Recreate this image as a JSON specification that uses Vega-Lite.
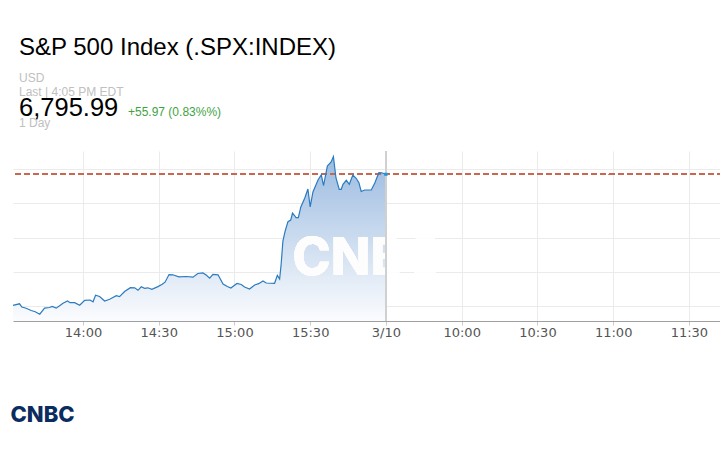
{
  "$schema": "https://vega.github.io/schema/vega-lite/v6.json",
  "background": "white",
  "padding": {"left": 10, "top": 35, "right": 0, "bottom": 0},
  "spacing": -23,
  "config": {
    "view": {"stroke": null},
    "font": "Liberation Sans"
  },
  "datasets": {
    "spx": [
      {"t": 2.3, "v": 6757.68}, {"t": 4.9, "v": 6758.12}, {"t": 5.8, "v": 6757.19}, {"t": 7.5, "v": 6756.81},
      {"t": 9.5, "v": 6756.16}, {"t": 11.1, "v": 6755.81}, {"t": 12.9, "v": 6755.08}, {"t": 14.8, "v": 6756.84},
      {"t": 16.8, "v": 6757.04}, {"t": 17.8, "v": 6757.33}, {"t": 19.4, "v": 6756.84}, {"t": 20.9, "v": 6757.62},
      {"t": 22.1, "v": 6758.27}, {"t": 23.9, "v": 6758.94}, {"t": 24.9, "v": 6758.44}, {"t": 26.7, "v": 6758.44},
      {"t": 28.7, "v": 6757.71}, {"t": 30.7, "v": 6759.15}, {"t": 32.8, "v": 6759.23}, {"t": 34.0, "v": 6758.71},
      {"t": 35.0, "v": 6760.64}, {"t": 36.6, "v": 6760.26}, {"t": 38.6, "v": 6758.94}, {"t": 40.6, "v": 6759.44},
      {"t": 43.2, "v": 6760.49}, {"t": 44.5, "v": 6760.20}, {"t": 46.5, "v": 6761.72}, {"t": 48.8, "v": 6762.83},
      {"t": 50.5, "v": 6762.80}, {"t": 51.8, "v": 6762.07}, {"t": 53.1, "v": 6763.09}, {"t": 54.4, "v": 6762.65},
      {"t": 55.7, "v": 6762.80}, {"t": 57.3, "v": 6762.36}, {"t": 59.7, "v": 6763.15}, {"t": 61.4, "v": 6763.82},
      {"t": 62.5, "v": 6764.44}, {"t": 64.1, "v": 6766.66}, {"t": 65.6, "v": 6766.60}, {"t": 68.0, "v": 6766.02},
      {"t": 70.9, "v": 6766.10}, {"t": 73.6, "v": 6765.90}, {"t": 75.5, "v": 6766.98}, {"t": 77.5, "v": 6767.13},
      {"t": 78.8, "v": 6766.54}, {"t": 80.2, "v": 6765.61}, {"t": 81.5, "v": 6766.75}, {"t": 83.5, "v": 6766.60},
      {"t": 85.5, "v": 6763.91}, {"t": 87.2, "v": 6763.18}, {"t": 88.6, "v": 6762.74}, {"t": 91.0, "v": 6764.06},
      {"t": 92.7, "v": 6763.76}, {"t": 94.0, "v": 6763.03}, {"t": 96.0, "v": 6762.45}, {"t": 98.0, "v": 6763.62},
      {"t": 99.6, "v": 6764.00}, {"t": 101.3, "v": 6764.79}, {"t": 102.6, "v": 6764.20}, {"t": 105.9, "v": 6764.12},
      {"t": 107.0, "v": 6766.45}, {"t": 107.9, "v": 6765.37}, {"t": 108.5, "v": 6769.67}, {"t": 109.2, "v": 6776.48},
      {"t": 110.1, "v": 6779.41}, {"t": 111.2, "v": 6782.13}, {"t": 112.3, "v": 6782.62}, {"t": 113.0, "v": 6784.67},
      {"t": 113.8, "v": 6783.94}, {"t": 114.4, "v": 6783.30}, {"t": 115.3, "v": 6783.30}, {"t": 116.3, "v": 6786.43},
      {"t": 117.9, "v": 6789.15}, {"t": 119.1, "v": 6791.69}, {"t": 120.0, "v": 6786.43}, {"t": 121.1, "v": 6790.81},
      {"t": 123.1, "v": 6794.32}, {"t": 124.4, "v": 6795.84}, {"t": 125.3, "v": 6792.71}, {"t": 126.8, "v": 6798.41},
      {"t": 128.3, "v": 6799.58}, {"t": 129.2, "v": 6801.19}, {"t": 130.2, "v": 6794.99}, {"t": 131.5, "v": 6791.60},
      {"t": 132.3, "v": 6791.60}, {"t": 133.0, "v": 6793.06}, {"t": 134.3, "v": 6794.23}, {"t": 135.5, "v": 6793.06},
      {"t": 136.9, "v": 6795.78}, {"t": 138.2, "v": 6794.82}, {"t": 139.3, "v": 6793.53}, {"t": 140.2, "v": 6790.96},
      {"t": 141.6, "v": 6791.40}, {"t": 144.2, "v": 6791.40}, {"t": 145.6, "v": 6793.44}, {"t": 147.2, "v": 6796.45},
      {"t": 148.3, "v": 6796.43}, {"t": 150.0, "v": 6795.99}
    ]
  },
  "vconcat": [
    {
      "width": 700,
      "height": 0,
      "data": {"values": []},
      "mark": "point",
      "title": {
        "text": "S&P 500 Index (.SPX:INDEX)",
        "subtitle": ["USD", "Last | 4:05 PM EDT"],
        "anchor": "start",
        "frame": "group",
        "fontSize": 24,
        "fontWeight": "normal",
        "color": "#000000",
        "subtitleColor": "#c0c0c0",
        "subtitleFontSize": 12,
        "subtitleLineHeight": 14,
        "subtitlePadding": 13.5,
        "offset": 0,
        "dx": 6
      }
    },
    {
      "spacing": 0,
      "hconcat": [
        {
          "width": 115,
          "height": 21.5,
          "data": {"values": []},
          "mark": "point",
          "title": {
            "text": "6,795.99",
            "subtitle": "1 Day",
            "anchor": "start",
            "frame": "group",
            "fontSize": 25.5,
            "fontWeight": "normal",
            "color": "#000000",
            "subtitleColor": "#c0c0c0",
            "subtitleFontSize": 12,
            "subtitlePadding": -3,
            "offset": 0,
            "dx": 6
          }
        },
        {
          "width": 200,
          "height": 21.5,
          "data": {"values": []},
          "mark": "point",
          "title": {
            "text": "+55.97 (0.83%%)",
            "anchor": "start",
            "frame": "group",
            "fontSize": 12,
            "fontWeight": "normal",
            "color": "#3fa33f",
            "offset": 0,
            "dy": -10
          }
        }
      ]
    },
    {
      "width": 710,
      "height": 170,
      "data": {"name": "spx"},
      "encoding": {
        "x": {
          "field": "t",
          "type": "quantitative",
          "scale": {"domain": [2.3, 283.5], "nice": false, "zero": false},
          "axis": {
            "values": [30, 60, 90, 120, 150, 180, 210, 240, 270],
            "labelExpr": "['14:00','14:30','15:00','15:30','3/10','10:00','10:30','11:00','11:30'][round(datum.value/30)-1]",
            "grid": true,
            "gridColor": "#ebebeb",
            "domainColor": "#a0a0a0",
            "tickColor": "#cccccc",
            "tickSize": 4,
            "labelFont": "DejaVu Sans",
            "labelFontSize": 13,
            "labelColor": "#555555",
            "labelPadding": 1.5,
            "title": "CNBC",
            "titleFont": "Inter",
            "titleFontWeight": 800,
            "titleFontSize": 22,
            "titleColor": "#0b2c5f",
            "titleAnchor": "start",
            "titleAlign": "left",
            "titleBaseline": "alphabetic",
            "titleX": -3,
            "titleY": 100
          }
        },
        "y": {
          "field": "v",
          "type": "quantitative",
          "scale": {"domain": [6753.09, 6802.8], "nice": false, "zero": false},
          "axis": {
            "values": [6757.45, 6767.45, 6777.45, 6787.45, 6797.45],
            "grid": true,
            "gridColor": "#ebebeb",
            "labels": false,
            "ticks": false,
            "domain": false,
            "title": null
          }
        }
      },
      "layer": [
        {
          "mark": {
            "type": "area",
            "color": {
              "gradient": "linear",
              "x1": 0, "y1": 1, "x2": 0, "y2": 0,
              "stops": [
                {"offset": 0, "color": "#fbfcfe"},
                {"offset": 1, "color": "#9bbbe0"}
              ]
            }
          },
          "encoding": {"y2": {"datum": 6753.09}}
        },
        {
          "mark": {"type": "text", "text": "CNBC", "font": "Inter", "fontWeight": 800, "fontSize": 52, "fill": "#ffffff", "fillOpacity": 0.3, "align": "center", "baseline": "middle"},
          "encoding": {"x": {"datum": 142.9}, "y": {"datum": 6771.3}}
        },
        {
          "mark": {"type": "rule", "color": "#d0d0d0", "strokeWidth": 1},
          "encoding": {"x": {"datum": 150}, "y": null}
        },
        {
          "mark": {"type": "rule", "color": "#c9694f", "strokeWidth": 1, "strokeDash": [6, 3]},
          "encoding": {"y": {"datum": 6795.99}, "x": null}
        },
        {
          "mark": {"type": "line", "color": "#2b7bc0", "strokeWidth": 1.2}
        },
        {
          "transform": [{"filter": "datum.t == 150"}],
          "mark": {"type": "point", "filled": true, "shape": "square", "size": 10, "color": "#1a9be0", "opacity": 1}
        }
      ]
    }
  ]
}
